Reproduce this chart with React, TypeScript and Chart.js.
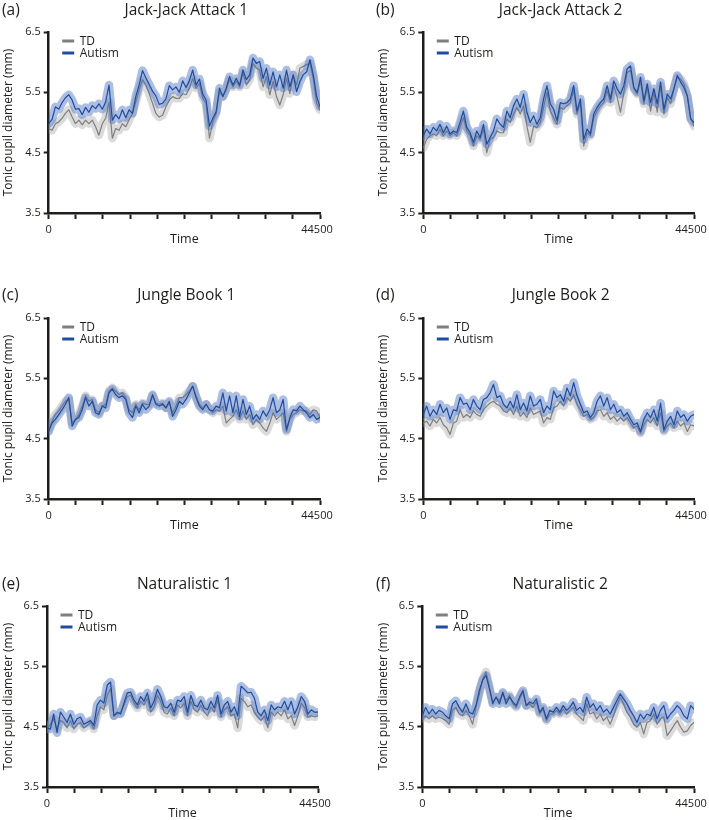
import React, { useEffect, useRef } from 'react';
import { Chart, registerables } from 'chart.js';

Chart.register(...registerables);

// ---------- axis definitions ----------
const TIME_MAX = 44500;
const X_TICKS = [0, 4450, 8900, 13350, 17800, 22250, 26700, 31150, 35600, 40050, 44500];
const X_TICK_LABELS = ['0', '', '', '', '', '', '', '', '', '', '44500'];
const Y_TICKS = [3.5, 4.5, 5.5, 6.5];
const Y_TICK_LABELS = ['3.5', '4.5', '5.5', '6.5'];
const GROUPS = ['TD', 'Autism'];
const PANEL_LETTERS = ['(a)', '(b)', '(c)', '(d)', '(e)', '(f)'];
const PANEL_TITLES = ['Jack-Jack Attack 1', 'Jack-Jack Attack 2', 'Jungle Book 1', 'Jungle Book 2', 'Naturalistic 1', 'Naturalistic 2'];

// ---------- series (tonic pupil diameter, mm; evenly sampled over time) ----------
const JJ1_TD = [4.90, 4.87, 4.98, 5.01, 5.07, 5.15, 5.21, 5.09, 4.98, 5.04,
  4.96, 5.04, 4.98, 5.04, 4.93, 4.79, 4.98, 5.07, 5.34, 4.74,
  4.90, 4.87, 4.98, 4.93, 5.04, 5.15, 5.34, 5.54, 5.71, 5.62,
  5.48, 5.32, 5.15, 5.09, 5.12, 5.26, 5.37, 5.43, 5.40, 5.40,
  5.48, 5.46, 5.57, 5.73, 5.57, 5.65, 5.40, 5.32, 4.74, 5.01,
  5.15, 5.51, 5.43, 5.54, 5.71, 5.59, 5.68, 5.59, 5.82, 5.62,
  5.71, 5.98, 5.90, 5.87, 5.59, 5.76, 5.46, 5.68, 5.43, 5.29,
  5.46, 5.73, 5.48, 5.79, 5.62, 5.90, 5.93, 5.96, 5.98, 5.73,
  5.32, 5.21];
const JJ1_AUT = [4.98, 5.05, 5.26, 5.22, 5.33, 5.41, 5.46, 5.37, 5.22, 5.23,
  5.13, 5.25, 5.17, 5.28, 5.23, 5.31, 5.22, 5.34, 5.62, 5.04,
  5.13, 5.06, 5.21, 5.08, 5.21, 5.15, 5.43, 5.62, 5.86, 5.74,
  5.63, 5.52, 5.44, 5.30, 5.32, 5.39, 5.61, 5.54, 5.59, 5.50,
  5.69, 5.58, 5.69, 5.87, 5.62, 5.72, 5.47, 5.37, 4.94, 5.07,
  5.18, 5.57, 5.43, 5.57, 5.76, 5.62, 5.73, 5.62, 5.87, 5.71,
  5.79, 6.07, 5.98, 6.01, 5.73, 5.90, 5.62, 5.84, 5.59, 5.79,
  5.57, 5.87, 5.59, 5.79, 5.51, 5.68, 5.79, 5.84, 6.04, 5.79,
  5.43, 5.26];

const JJ2_TD = [4.58, 4.72, 4.78, 4.81, 4.78, 4.89, 4.78, 4.86, 4.78, 4.83,
  4.78, 4.92, 5.08, 4.86, 4.78, 4.61, 4.78, 4.72, 4.89, 4.50,
  4.72, 4.75, 4.86, 4.83, 4.83, 5.06, 5.00, 5.14, 5.25, 5.14,
  5.28, 4.94, 4.67, 4.94, 4.92, 5.00, 5.25, 5.50, 5.19, 5.08,
  4.97, 5.25, 5.22, 5.28, 5.33, 5.53, 5.14, 5.33, 4.61, 4.83,
  4.78, 5.08, 5.19, 5.28, 5.33, 5.53, 5.33, 5.61, 5.42, 5.17,
  5.50, 5.83, 5.86, 5.56, 5.47, 5.69, 5.31, 5.58, 5.19, 5.50,
  5.17, 5.61, 5.14, 5.42, 5.31, 5.56, 5.75, 5.72, 5.64, 5.44,
  5.08, 4.94];
const JJ2_AUT = [4.78, 4.89, 4.81, 4.92, 4.86, 4.97, 4.83, 4.94, 4.81, 4.86,
  4.83, 5.00, 5.19, 4.92, 4.83, 4.67, 4.86, 4.75, 4.97, 4.64,
  4.75, 4.86, 5.06, 4.97, 4.92, 5.19, 5.08, 5.28, 5.39, 5.25,
  5.47, 5.17, 5.00, 5.11, 4.97, 5.08, 5.39, 5.61, 5.31, 5.22,
  5.03, 5.33, 5.31, 5.33, 5.39, 5.61, 5.19, 5.39, 4.72, 4.89,
  4.81, 5.14, 5.25, 5.33, 5.39, 5.61, 5.39, 5.69, 5.56, 5.47,
  5.61, 5.89, 5.94, 5.58, 5.50, 5.75, 5.36, 5.64, 5.33, 5.56,
  5.31, 5.67, 5.22, 5.47, 5.39, 5.56, 5.78, 5.67, 5.58, 5.44,
  5.06, 5.00];

const JB1_TD = [4.65, 4.79, 4.90, 4.96, 5.04, 5.12, 5.15, 4.76, 4.82, 4.90,
  5.04, 5.21, 5.12, 5.15, 4.98, 4.93, 5.04, 5.07, 5.29, 5.34,
  5.29, 5.23, 5.26, 5.18, 4.98, 4.93, 5.07, 4.98, 5.09, 5.07,
  5.07, 5.21, 5.09, 5.07, 5.09, 5.01, 5.09, 4.93, 5.04, 5.18,
  5.18, 5.23, 5.29, 5.37, 5.21, 5.07, 5.01, 5.07, 4.98, 4.93,
  4.98, 4.96, 5.04, 4.76, 4.82, 4.87, 4.98, 4.82, 4.96, 4.82,
  4.90, 4.73, 4.82, 4.76, 4.68, 4.62, 4.76, 4.93, 4.82, 4.87,
  4.93, 4.62, 4.82, 4.90, 4.93, 4.98, 4.96, 4.96, 4.90, 4.98,
  4.96, 4.85];
const JB1_AUT = [4.62, 4.76, 4.82, 4.90, 4.98, 5.07, 5.18, 4.71, 4.82, 4.85,
  4.98, 5.18, 5.04, 5.12, 4.93, 4.90, 5.04, 5.01, 5.26, 5.32,
  5.23, 5.18, 5.21, 5.15, 4.93, 4.85, 5.04, 4.93, 5.07, 4.98,
  5.04, 5.23, 5.07, 5.04, 5.07, 5.01, 5.12, 4.87, 4.98, 5.12,
  5.07, 5.15, 5.26, 5.37, 5.18, 5.04, 4.98, 5.07, 4.98, 4.96,
  5.04, 5.01, 5.26, 4.96, 5.21, 4.93, 5.21, 4.87, 5.15, 4.90,
  5.04, 4.82, 4.90, 4.82, 4.96, 4.87, 4.98, 5.18, 4.93, 4.98,
  5.15, 4.65, 4.85, 4.98, 4.96, 5.04, 4.98, 4.93, 4.85, 4.90,
  4.82, 4.85];

const JB2_TD = [4.76, 4.79, 4.71, 4.82, 4.76, 4.85, 4.73, 4.68, 4.57, 4.76,
  4.79, 4.98, 4.85, 4.90, 4.85, 4.96, 4.90, 4.87, 4.98, 5.04,
  5.09, 5.12, 5.07, 5.04, 4.96, 4.93, 5.01, 4.90, 5.04, 4.87,
  4.93, 4.85, 5.01, 4.90, 4.93, 4.96, 4.76, 4.85, 4.82, 5.01,
  5.04, 5.12, 5.04, 5.18, 5.12, 5.23, 5.07, 4.98, 4.87, 4.90,
  4.82, 4.85, 4.96, 4.98, 4.87, 4.93, 4.82, 4.87, 4.79, 4.85,
  4.79, 4.85, 4.76, 4.68, 4.71, 4.59, 4.73, 4.82, 4.76, 4.85,
  4.71, 4.93, 4.62, 4.71, 4.76, 4.68, 4.79, 4.71, 4.76, 4.62,
  4.73, 4.71];
const JB2_AUT = [4.90, 5.04, 4.87, 4.98, 4.90, 5.07, 4.93, 5.01, 4.82, 4.98,
  4.96, 5.18, 5.07, 5.09, 4.98, 5.15, 5.04, 4.98, 5.15, 5.18,
  5.26, 5.40, 5.18, 5.21, 5.07, 5.01, 5.12, 5.01, 5.23, 4.98,
  5.09, 4.96, 5.21, 5.04, 5.07, 5.15, 4.93, 5.04, 4.98, 5.29,
  5.18, 5.23, 5.12, 5.34, 5.21, 5.43, 5.21, 5.07, 4.93, 4.96,
  4.85, 4.93, 5.12, 5.21, 5.04, 5.18, 4.98, 5.07, 4.93, 4.98,
  4.87, 4.93, 4.82, 4.73, 4.76, 4.62, 4.82, 4.93, 4.85, 4.98,
  4.79, 5.09, 4.65, 4.79, 4.87, 4.73, 4.96, 4.85, 4.90, 4.79,
  4.87, 4.90];

const NAT1_TD = [4.46, 4.54, 4.63, 4.46, 4.60, 4.57, 4.48, 4.60, 4.46, 4.54,
  4.57, 4.48, 4.52, 4.57, 4.46, 4.68, 4.83, 4.78, 5.02, 5.13,
  4.68, 4.71, 4.74, 4.86, 5.00, 5.02, 4.89, 4.81, 4.92, 4.86,
  4.97, 4.74, 4.83, 5.02, 4.92, 4.74, 4.71, 4.81, 4.68, 4.86,
  4.81, 4.89, 4.68, 4.92, 4.78, 4.74, 4.86, 4.74, 4.68, 4.83,
  4.74, 4.94, 4.66, 4.78, 4.83, 4.68, 4.71, 4.48, 4.97, 4.92,
  4.83, 4.86, 4.74, 4.66, 4.60, 4.68, 4.48, 4.74, 4.68, 4.74,
  4.68, 4.78, 4.63, 4.68, 4.52, 4.68, 4.89, 4.81, 4.66, 4.68,
  4.66, 4.68];
const NAT1_AUT = [4.48, 4.46, 4.71, 4.40, 4.74, 4.66, 4.57, 4.71, 4.54, 4.63,
  4.66, 4.54, 4.57, 4.60, 4.52, 4.86, 4.94, 4.89, 5.19, 5.24,
  4.68, 4.74, 4.71, 4.89, 5.06, 5.07, 4.94, 4.86, 5.00, 4.92,
  5.06, 4.81, 4.92, 5.12, 5.00, 4.83, 4.81, 4.89, 4.74, 4.94,
  4.92, 5.00, 4.74, 5.02, 4.86, 4.83, 4.94, 4.81, 4.78, 4.92,
  4.81, 5.02, 4.71, 4.86, 4.92, 4.74, 4.83, 4.68, 5.17, 5.12,
  5.06, 5.07, 4.97, 4.74, 4.68, 4.78, 4.60, 4.86, 4.78, 4.83,
  4.81, 4.92, 4.78, 4.92, 4.71, 4.83, 5.00, 4.92, 4.71, 4.78,
  4.74, 4.74];

const NAT2_TD = [4.63, 4.68, 4.63, 4.68, 4.63, 4.66, 4.63, 4.60, 4.54, 4.77,
  4.82, 4.71, 4.68, 4.77, 4.68, 4.54, 4.82, 5.04, 5.29, 5.41,
  5.16, 4.91, 4.99, 4.93, 5.04, 4.93, 5.02, 4.88, 4.82, 4.96,
  5.07, 4.85, 4.88, 4.82, 4.91, 4.71, 4.79, 4.60, 4.71, 4.71,
  4.77, 4.71, 4.79, 4.71, 4.77, 4.82, 4.71, 4.66, 4.60, 4.88,
  4.71, 4.74, 4.63, 4.71, 4.60, 4.66, 4.54, 4.68, 4.85, 4.99,
  4.88, 4.74, 4.66, 4.54, 4.49, 4.57, 4.38, 4.57, 4.60, 4.71,
  4.54, 4.63, 4.66, 4.35, 4.43, 4.52, 4.60, 4.49, 4.41, 4.43,
  4.52, 4.57];
const NAT2_AUT = [4.68, 4.82, 4.71, 4.79, 4.71, 4.77, 4.74, 4.68, 4.63, 4.88,
  4.93, 4.82, 4.74, 4.88, 4.74, 4.71, 4.85, 5.10, 5.27, 5.35,
  5.13, 4.88, 4.99, 4.88, 5.07, 4.88, 4.99, 4.91, 4.85, 4.99,
  5.10, 4.85, 4.91, 4.88, 4.96, 4.74, 4.82, 4.63, 4.77, 4.74,
  4.82, 4.74, 4.85, 4.77, 4.82, 4.91, 4.77, 4.82, 4.74, 4.99,
  4.82, 4.88, 4.77, 4.85, 4.74, 4.79, 4.71, 4.82, 4.93, 5.04,
  4.96, 4.88, 4.77, 4.68, 4.57, 4.71, 4.63, 4.71, 4.68, 4.82,
  4.63, 4.77, 4.85, 4.63, 4.71, 4.77, 4.85, 4.79, 4.68, 4.63,
  4.85, 4.79];

const TD_SERIES = [JJ1_TD, JJ2_TD, JB1_TD, JB2_TD, NAT1_TD, NAT2_TD];
const AUT_SERIES = [JJ1_AUT, JJ2_AUT, JB1_AUT, JB2_AUT, NAT1_AUT, NAT2_AUT];

// ---------- styling / layout ----------
const FONT = '"Open Sans", "DejaVu Sans", sans-serif';
const INK = '#1d1d1b';
const TD_LINE = '#7f7f7f';
const TD_BAND = 'rgba(170,170,170,0.42)';
const AUT_LINE = '#1f4c9e';
const AUT_BAND = 'rgba(70,112,192,0.45)';
const CANVAS_H = 247;
const PAD_TOP = 32;
const PLOT_H = 181;

type Layout = { left: number; top: number; width: number; axisW: number; right: number; letterX: number };
const LAYOUTS: Layout[] = [
  { left: 0, top: 0, width: 354, axisW: 48.7, right: 320, letterX: 2 },
  { left: 375, top: 0, width: 334, axisW: 48.3, right: 694, letterX: 376 },
  { left: 0, top: 285.7, width: 354, axisW: 48.7, right: 320, letterX: 2 },
  { left: 375, top: 285.7, width: 334, axisW: 48.3, right: 694, letterX: 376 },
  { left: 0, top: 574, width: 354, axisW: 47, right: 318, letterX: 2 },
  { left: 375, top: 574, width: 334, axisW: 47.3, right: 694, letterX: 376 },
];

const innerLegend = {
  id: 'innerLegend',
  afterDraw(chart: any) {
    const { ctx, chartArea } = chart;
    const colors = [TD_LINE, AUT_LINE];
    ctx.save();
    GROUPS.forEach((g, i) => {
      const y = chartArea.top + 9 + i * 12;
      ctx.strokeStyle = colors[i];
      ctx.lineWidth = 3;
      ctx.beginPath();
      ctx.moveTo(chartArea.left + 13.5, y);
      ctx.lineTo(chartArea.left + 25.5, y);
      ctx.stroke();
      ctx.fillStyle = INK;
      ctx.font = `12px ${FONT}`;
      ctx.textBaseline = 'middle';
      ctx.textAlign = 'left';
      ctx.fillText(g, chartArea.left + 31, y + 0.5);
    });
    ctx.restore();
  },
};

// end labels of the time axis ("0" centred, "44500" nudged inward as in the original)
const timeLabels = {
  id: 'timeLabels',
  afterDraw(chart: any) {
    const { ctx, chartArea } = chart;
    const xs = chart.scales.x;
    ctx.save();
    ctx.fillStyle = INK;
    ctx.font = `11px ${FONT}`;
    ctx.textAlign = 'center';
    ctx.textBaseline = 'middle';
    X_TICKS.forEach((v, i) => {
      const label = X_TICK_LABELS[i];
      if (!label) return;
      const nudge = i === X_TICKS.length - 1 ? -3 : 0;
      ctx.fillText(label, xs.getPixelForValue(v) + nudge, chartArea.bottom + 17);
    });
    ctx.restore();
  },
};

function Panel({ idx }: { idx: number }) {
  const ref = useRef<HTMLCanvasElement>(null);
  const L = LAYOUTS[idx];
  useEffect(() => {
    const toPts = (arr: number[]) => arr.map((y, i) => ({ x: (i / (arr.length - 1)) * TIME_MAX, y }));
    const common = { pointRadius: 0, tension: 0, fill: false, borderJoinStyle: 'round', borderCapStyle: 'round' };
    const td = TD_SERIES[idx];
    const aut = AUT_SERIES[idx];
    const chart = new Chart(ref.current as HTMLCanvasElement, {
      type: 'line',
      data: {
        datasets: [
          { ...common, label: GROUPS[1], data: toPts(aut), borderColor: AUT_LINE, borderWidth: 1.2 },
          { ...common, label: GROUPS[1] + ' SEM', data: toPts(aut), borderColor: AUT_BAND, borderWidth: 8.5 },
          { ...common, label: GROUPS[0], data: toPts(td), borderColor: TD_LINE, borderWidth: 1.2 },
          { ...common, label: GROUPS[0] + ' SEM', data: toPts(td), borderColor: TD_BAND, borderWidth: 8.5 },
        ] as any,
      },
      options: {
        responsive: false,
        animation: false,
        events: [],
        layout: { padding: { left: 0, top: PAD_TOP, right: L.width - (L.right - L.left), bottom: 0 } },
        plugins: { legend: { display: false }, tooltip: { enabled: false }, title: { display: false } },
        scales: {
          x: {
            type: 'linear', min: 0, max: TIME_MAX,
            afterBuildTicks: (s: any) => { s.ticks = X_TICKS.map((value) => ({ value })); },
            afterFit: (s: any) => { s.height = CANVAS_H - PAD_TOP - PLOT_H; s.paddingLeft = 0; s.paddingRight = 0; },
            border: { display: true, color: INK, width: 2.5 },
            grid: { display: true, drawOnChartArea: false, drawTicks: true, tickLength: 6, tickWidth: 2, tickColor: INK },
            ticks: { display: false },
            title: { display: true, text: 'Time', color: INK, font: { family: FONT, size: 12.5 }, padding: { top: 0, bottom: 0 } },
          },
          y: {
            type: 'linear', min: 3.5, max: 6.5,
            afterBuildTicks: (s: any) => { s.ticks = Y_TICKS.map((value) => ({ value })); },
            afterFit: (s: any) => { s.width = L.axisW; s.paddingTop = 0; s.paddingBottom = 0; },
            border: { display: true, color: INK, width: 2.5 },
            grid: { display: true, drawOnChartArea: false, drawTicks: true, tickLength: 5, tickWidth: 2, tickColor: INK },
            ticks: {
              autoSkip: false, padding: 3, color: INK,
              font: { family: FONT, size: 11 },
              callback: (_v: any, i: number) => Y_TICK_LABELS[i],
            },
            title: { display: true, text: 'Tonic pupil diameter (mm)', color: INK, font: { family: FONT, size: 12 }, padding: { top: 1, bottom: 0 } },
          },
        },
      } as any,
      plugins: [innerLegend, timeLabels],
    });
    let alive = true;
    const fonts = (document as any).fonts;
    if (fonts && fonts.load) {
      Promise.all([fonts.load(`11px ${FONT}`), fonts.load(`12px ${FONT}`)])
        .then(() => { if (alive) chart.update(); })
        .catch(() => {});
    }
    return () => { alive = false; chart.destroy(); };
  }, []);

  const chartLeft = L.left + L.axisW;
  const chartW = L.right - chartLeft;
  const textStyle: React.CSSProperties = {
    position: 'absolute', fontFamily: FONT, fontSize: 15.5, lineHeight: '16px', color: INK, whiteSpace: 'nowrap',
  };
  return (
    <>
      <canvas
        ref={ref}
        width={L.width}
        height={CANVAS_H}
        style={{ position: 'absolute', left: L.left, top: L.top, width: L.width, height: CANVAS_H }}
      />
      <div style={{ ...textStyle, left: L.letterX, top: L.top + 0.5 }}>{PANEL_LETTERS[idx]}</div>
      <div style={{ ...textStyle, left: chartLeft + 2, width: chartW, top: L.top + 0.5, textAlign: 'center' }}>
        {PANEL_TITLES[idx]}
      </div>
    </>
  );
}

export default function App() {
  return (
    <div style={{ position: 'absolute', left: 0, top: 0, width: 709, height: 820, background: '#fff', overflow: 'hidden' }}>
      {PANEL_TITLES.map((_, i) => (
        <Panel key={i} idx={i} />
      ))}
    </div>
  );
}
